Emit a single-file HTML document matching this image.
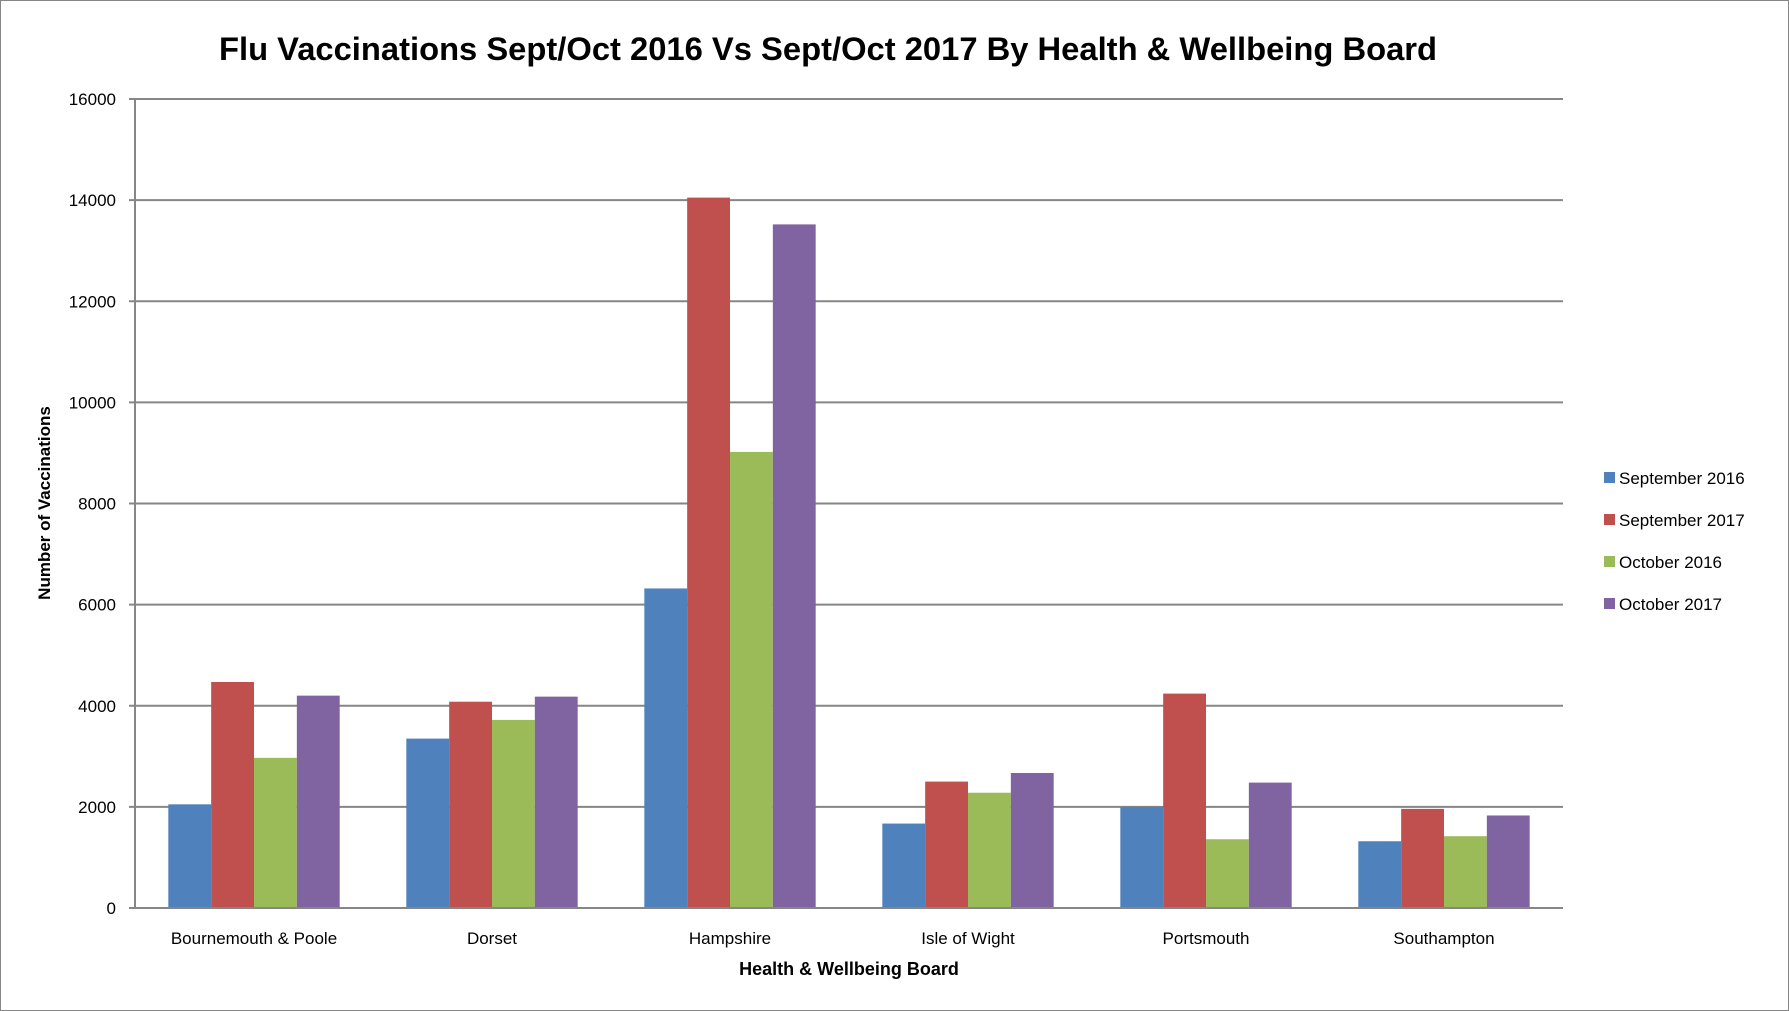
<!DOCTYPE html>
<html><head><meta charset="utf-8"><style>
html,body{margin:0;padding:0;background:#fff;}
svg{display:block;font-family:"Liberation Sans",sans-serif;}
</style></head><body>
<svg id="chart" width="1789" height="1011" viewBox="0 0 1789 1011">
<rect x="0.5" y="0.5" width="1788" height="1010" fill="#fff" stroke="#868686"/>
<text x="828" y="60" text-anchor="middle" font-size="32" font-weight="bold" textLength="1218" lengthAdjust="spacingAndGlyphs">Flu Vaccinations Sept/Oct 2016 Vs Sept/Oct 2017 By Health &amp; Wellbeing Board</text>
<g id="grid"></g>
<g id="bars"></g>
<g id="axes"></g>
<text transform="translate(50,503) rotate(-90)" text-anchor="middle" font-size="17" font-weight="bold">Number of Vaccinations</text>
<text x="849" y="975" text-anchor="middle" font-size="18" font-weight="bold">Health &amp; Wellbeing Board</text>
<g id="legend"></g>
</svg>
<script>
const categories = ["Bournemouth & Poole","Dorset","Hampshire","Isle of Wight","Portsmouth","Southampton"];
const seriesNames = ["September 2016","September 2017","October 2016","October 2017"];
const sep2016 = [2050,3350,6320,1670,2000,1320];
const sep2017 = [4470,4080,14050,2500,4240,1960];
const oct2016 = [2970,3720,9020,2280,1360,1420];
const oct2017 = [4200,4180,13520,2670,2480,1830];
const yTicks = [0,2000,4000,6000,8000,10000,12000,14000,16000];
const colors = ["#4f81bd","#c0504d","#9bbb59","#8064a2"];
const series = [sep2016,sep2017,oct2016,oct2017];
const NS="http://www.w3.org/2000/svg";
const X0=135, X1=1563, Y0=908, Y1=99, YMAX=16000;
const y = v => Y0 - (v/YMAX)*(Y0-Y1);
const bandW=(X1-X0)/categories.length;
const barW=bandW*0.18;
const xBand = i => X0 + i*bandW;
function mk(tag, attrs, parent){const e=document.createElementNS(NS,tag);for(const k in attrs)e.setAttribute(k,attrs[k]);parent.appendChild(e);return e;}
const grid=document.getElementById('grid'), bars=document.getElementById('bars'), axes=document.getElementById('axes'), legend=document.getElementById('legend');
yTicks.forEach(t=>{
  if(t>0){const l=mk('line',{x1:X0,x2:X1,y1:y(t),y2:y(t),stroke:'#868686','stroke-width':2},grid);
  
  }
  const tk=mk('line',{x1:X0-6,x2:X0,y1:y(t),y2:y(t),stroke:'#868686','stroke-width':2},axes);
  
  
  const tx=mk('text',{x:X0-19,y:y(t)+6,'text-anchor':'end','font-size':17},axes);
  tx.textContent=t;
  
  
});
categories.forEach((c,i)=>{
  const start=xBand(i)+(bandW-4*barW)/2;
  series.forEach((s,j)=>{
    const r=mk('rect',{x:start+j*barW,y:y(s[i]),width:barW,height:Y0-y(s[i]),fill:colors[j]},bars);
    
    
  });
  const tx=mk('text',{x:xBand(i)+bandW/2,y:944,'text-anchor':'middle','font-size':17},axes);
  tx.textContent=c;
  
  
});
const ya=mk('line',{x1:X0,x2:X0,y1:Y1,y2:Y0,stroke:'#868686','stroke-width':2},axes);


const xa=mk('line',{x1:X0-6,x2:X1,y1:Y0,y2:Y0,stroke:'#868686','stroke-width':2},axes);


seriesNames.forEach((n,j)=>{
  const cy=478+j*42;
  const g=mk('g',{},legend);
  
  
  const sw=mk('rect',{x:1604,y:cy-6,width:11,height:11,fill:colors[j]},g);
  
  
  const t=mk('text',{x:1619,y:cy+6,'font-size':17},g);
  t.textContent=n;
  
  
});
</script>
</body></html>
